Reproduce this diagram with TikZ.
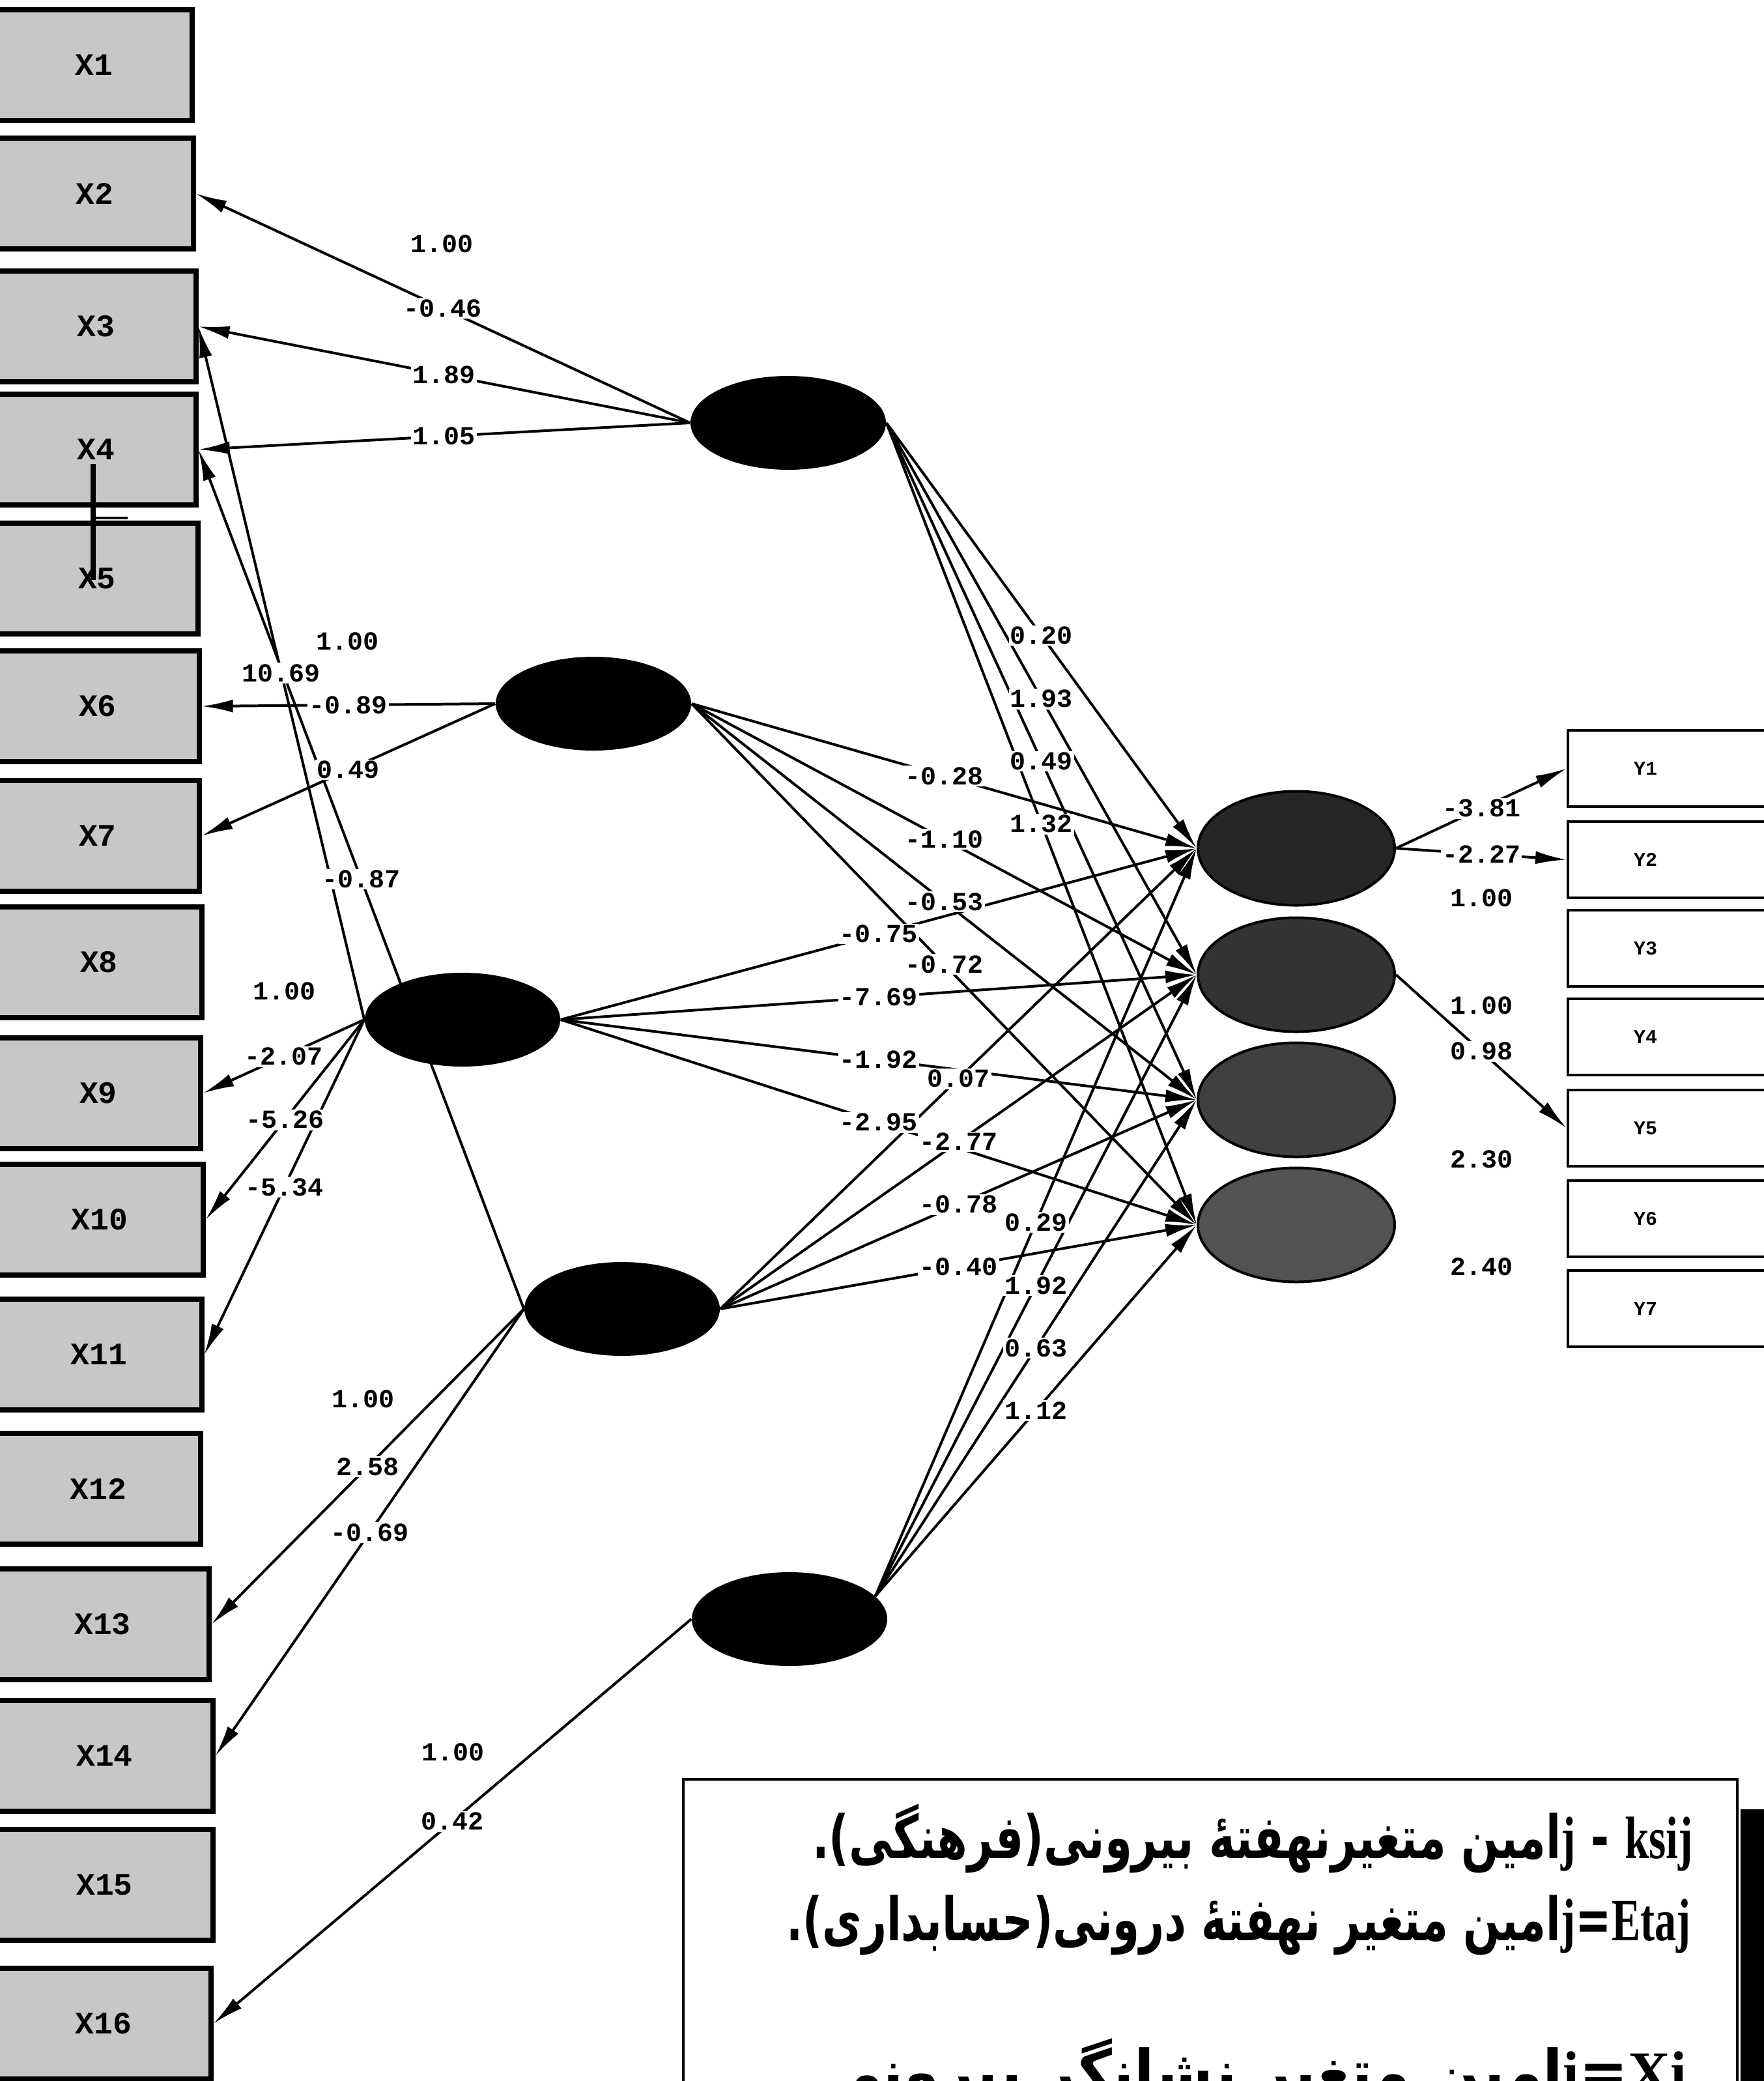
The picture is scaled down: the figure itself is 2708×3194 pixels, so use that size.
\documentclass[tikz,border=0pt]{standalone}
\usepackage{fontspec}
\usepackage{graphicx}
\setmainfont{Liberation Serif}
\newfontfamily\labfont{Liberation Mono}
\newfontfamily\arabicfont[Script=Arabic]{DejaVu Sans}
\TeXXeTstate=1
\usetikzlibrary{shapes.geometric,arrows.meta,calc}
\pgfdeclarelayer{bg}
\pgfsetlayers{bg,main}
\tikzset{
  xbox/.style={draw, line width=1.8pt, fill=black!22, minimum height=42.5pt, inner sep=0pt,
    font=\labfont\bfseries\fontsize{12}{12}\selectfont},
  ybox/.style={draw, line width=1pt, fill=white, minimum width=90pt, minimum height=29.25pt, inner sep=0pt,
    font=\labfont\bfseries\fontsize{7.5}{7.5}\selectfont},
  ksi/.style={ellipse, fill=black, minimum width=75pt, minimum height=36pt, inner sep=0pt},
  eta/.style={ellipse, fill=#1, draw=black, line width=1pt, minimum width=75.5pt, minimum height=43.75pt, inner sep=0pt},
  lab/.style={fill=white, inner sep=0.6pt, font=\labfont\bfseries\fontsize{10}{10}\selectfont},
  conn/.style={line width=1pt, -{Latex[length=12pt,width=5pt]}},
}
\begin{document}
\begin{tikzpicture}[x=0.25pt,y=-0.25pt]
\useasboundingbox (0,0) rectangle (2708,3194);
% observed X boxes
\foreach \i/\t/\r in {1/15/295,2/212/297,3/416/301,4/605/301,5/803/304,6/999/306,7/1198/306,8/1392/310,9/1593/308,10/1787/312,11/1994/310,12/2200/308,13/2408/321,14/2610/327,15/2808/327,16/3021/324}{
  \pgfmathsetmacro\w{(\r+6)*0.25}
  \node[xbox, minimum width=\w pt] (X\i) at ({(\r-6)/2},{\t+85}) {X\i};
}
% scribble between X4 and X5
\draw[line width=2.2pt] (143,712) -- (143,890);
\draw[line width=1pt] (143,795) -- (196,795);
% observed Y boxes
\foreach \i/\t in {1/1121,2/1261,3/1397,4/1533,5/1673,6/1812,7/1950}{
  \node[ybox] (Y\i) at (2587,{\t+58.5}) {Y\i\hspace*{30.5pt}};
}
% latent variables
\node[ksi] (k1) at (1210,649) {};
\node[ksi] (k2) at (911,1080) {};
\node[ksi] (k3) at (710,1565) {};
\node[ksi] (k4) at (955,2009) {};
\node[ksi] (k5) at (1212,2485) {};
\node[eta=black!85] (e1) at (1990,1302) {};
\node[eta=black!80] (e2) at (1990,1496) {};
\node[eta=black!75] (e3) at (1990,1688) {};
\node[eta=black!68] (e4) at (1990,1880) {};
% connectors
\begin{pgfonlayer}{bg}
\foreach \k/\x in {k1/X2,k1/X3,k1/X4,k2/X6,k2/X7,k3/X3,k3/X9,k3/X10,k3/X11,k4/X4,k4/X13,k4/X14,k5/X16}
  \draw[conn] (\k.west) -- (\x.east);
\foreach \k in {k1,k2,k3,k4}
  \foreach \e in {e1,e2,e3,e4}
    \draw[conn] (\k.east) -- (\e.west);
\foreach \e in {e1,e2,e3,e4}
  \draw[conn] (k5.15) -- (\e.west);
\draw[conn] (e1.east) -- (Y1.west);
\draw[conn] (e1.east) -- (Y2.west);
\draw[conn] (e2.east) -- (Y5.west);
\end{pgfonlayer}
% labels ksi -> X
\foreach \a/\b/\v [count=\n] in {k1.west/X1.east/1.00,k1.west/X2.east/-0.46,k1.west/X3.east/1.89,k1.west/X4.east/1.05,
  k2.west/X5.east/1.00,k2.west/X6.east/-0.89,k2.west/X7.east/0.49,
  k3.west/X3.east/10.69,k3.west/X8.east/1.00,k3.west/X9.east/-2.07,k3.west/X10.east/-5.26,k3.west/X11.east/-5.34,
  k4.west/X4.east/-0.87,k4.west/X12.east/1.00,k4.west/X13.east/2.58,k4.west/X14.east/-0.69,
  k5.west/X15.east/1.00,k5.west/X16.east/0.42}
  \node[lab] (lx\n) at ($(\a)!0.5!(\b)$) {\v};
% labels ksi -> eta
\foreach \a/\b/\v [count=\n] in {k1.east/e1.west/0.20,k1.east/e2.west/1.93,k1.east/e3.west/0.49,k1.east/e4.west/1.32,
  k2.east/e1.west/-0.28,k2.east/e2.west/-1.10,k2.east/e3.west/-0.53,k2.east/e4.west/-0.72,
  k3.east/e1.west/-0.75,k3.east/e2.west/-7.69,k3.east/e3.west/-1.92,k3.east/e4.west/-2.95,
  k4.east/e1.west/0.07,k4.east/e2.west/-2.77,k4.east/e3.west/-0.78,k4.east/e4.west/-0.40,
  k5.15/e1.west/0.29,k5.15/e2.west/1.92,k5.15/e3.west/0.63,k5.15/e4.west/1.12}
  \node[lab] (le\n) at ($(\a)!0.5!(\b)$) {\v};
% labels eta -> Y
\foreach \a/\b/\v [count=\n] in {e1.east/Y1.west/-3.81,e1.east/Y2.west/-2.27,e1.east/Y3.west/1.00,
  e2.east/Y4.west/1.00,e2.east/Y5.west/0.98,e3.east/Y6.west/2.30,e4.east/Y7.west/2.40}
  \node[lab] (ly\n) at ($(\a)!0.5!(\b)$) {\v};
% legend
\fill[black] (2672,2777) rectangle (2720,3260);
\draw[line width=1.2pt, fill=white] (1049,2731) rectangle (2667,3260);
\node[anchor=base east, inner sep=0pt] (leg1) at (2600,2852)
  {\resizebox{338pt}{\height}{\arabicfont\bfseries\fontsize{23}{26}\selectfont\beginR\beginL{\rmfamily\bfseries ksij}\endL{} - \beginL{\rmfamily\bfseries j}\endL امین متغیرنهفتهٔ بیرونی(فرهنگی).\endR}};
\node[anchor=base east, inner sep=0pt] (leg2) at (2596,2978)
  {\resizebox{347pt}{\height}{\arabicfont\bfseries\fontsize{23}{26}\selectfont\beginR\beginL{\rmfamily\bfseries Etaj}\endL=\beginL{\rmfamily\bfseries j}\endL امین متغیر نهفتهٔ درونی(حسابداری).\endR}};
\node[anchor=base east, inner sep=0pt] (leg3) at (2590,3212)
  {\resizebox{340pt}{\height}{\arabicfont\bfseries\fontsize{23}{26}\selectfont\beginR\beginL{\rmfamily\bfseries Xi}\endL=\beginL{\rmfamily\bfseries i}\endL امین متغیر نشانگر بیرونی.\endR}};
\end{tikzpicture}
\end{document}
